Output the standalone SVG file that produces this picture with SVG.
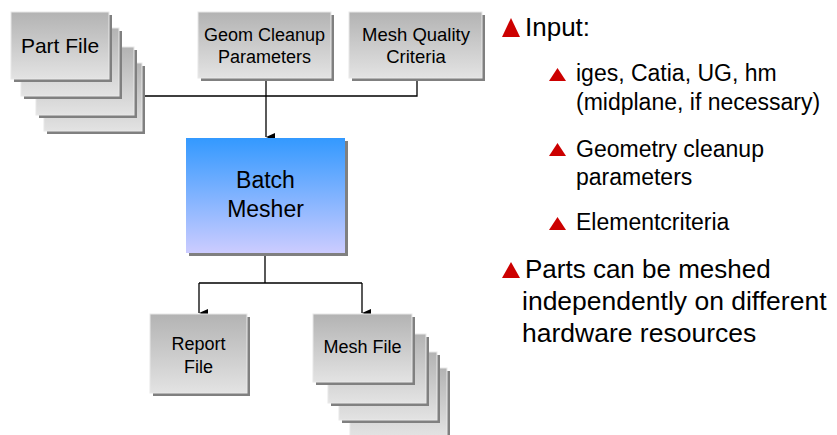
<svg xmlns="http://www.w3.org/2000/svg" width="837" height="435" viewBox="0 0 837 435">
<defs>
<linearGradient id="gray" x1="0" y1="0" x2="0" y2="1">
<stop offset="0" stop-color="#B3B3B3"/>
<stop offset="1" stop-color="#E3E3E3"/>
</linearGradient>
<linearGradient id="blue" x1="0" y1="0" x2="0" y2="1">
<stop offset="0" stop-color="#3399FF"/>
<stop offset="1" stop-color="#CCCCFF"/>
</linearGradient>
<marker id="arr" markerWidth="10" markerHeight="10" refX="5" refY="9" orient="auto-start-reverse" markerUnits="userSpaceOnUse" viewBox="0 0 10 10">
<path d="M1,0 L9,0 L5,9 Z" fill="#000"/>
</marker>
</defs>
<style>
.card{fill:url(#gray);stroke:#E8E8E8;stroke-width:1}
.sh{fill:#808080}
.lbl{font-family:"Liberation Sans",Arial,sans-serif;fill:#000;text-anchor:middle}
.conn{fill:none;stroke:#000;stroke-width:1.3}
.bul{fill:#CC0000}
.txt{font-family:"Liberation Sans",Arial,sans-serif;fill:#000}
</style>
<rect width="837" height="435" fill="#fff"/>

<g id="connectors">
<path class="conn" d="M143,96 H417 V81"/>
<path class="conn" d="M266,81 V137" marker-end="url(#arr)"/>
<path class="conn" d="M265,256 V283 M199,283 H362"/>
<path class="conn" d="M199,283 V313" marker-end="url(#arr)"/>
<path class="conn" d="M362,283 V313" marker-end="url(#arr)"/>
</g>

<g id="part-file">
<rect class="sh" x="47" y="66" width="98" height="68"/>
<rect class="card" x="44" y="63" width="98" height="68"/>
<rect class="sh" x="39" y="50" width="98" height="68"/>
<rect class="card" x="36" y="47" width="98" height="68"/>
<rect class="sh" x="24" y="31" width="98" height="68"/>
<rect class="card" x="21" y="28" width="98" height="68"/>
<rect class="sh" x="14" y="15" width="98" height="67"/>
<rect class="card" x="11" y="12" width="98" height="67"/>
<text class="lbl" x="60" y="53" font-size="21">Part File</text>
</g>

<g id="geom-cleanup">
<rect class="sh" x="201" y="15" width="133" height="66"/>
<rect class="card" x="198" y="12" width="133" height="66"/>
<text class="lbl" x="264.5" y="41" font-size="18">Geom Cleanup</text>
<text class="lbl" x="264.5" y="63" font-size="18">Parameters</text>
</g>

<g id="mesh-quality">
<rect class="sh" x="352" y="15" width="133" height="66"/>
<rect class="card" x="349" y="12" width="133" height="66"/>
<text class="lbl" x="416" y="41" font-size="18.5">Mesh Quality</text>
<text class="lbl" x="416" y="63" font-size="18.5">Criteria</text>
</g>

<g id="batch-mesher">
<rect class="sh" x="189" y="141" width="159" height="115"/>
<rect x="186" y="138" width="159" height="115" fill="url(#blue)"/>
<text class="lbl" x="265.5" y="188" font-size="23">Batch</text>
<text class="lbl" x="265.5" y="217" font-size="23">Mesher</text>
</g>

<g id="report-file">
<rect class="sh" x="153" y="317" width="97" height="79"/>
<rect class="card" x="150" y="314" width="97" height="79"/>
<text class="lbl" x="198.5" y="350" font-size="18">Report</text>
<text class="lbl" x="198.5" y="373" font-size="18">File</text>
</g>

<g id="mesh-file">
<rect class="sh" x="353" y="371" width="97" height="68"/>
<rect class="card" x="350" y="368" width="97" height="68"/>
<rect class="sh" x="342" y="355" width="98" height="68"/>
<rect class="card" x="339" y="352" width="98" height="68"/>
<rect class="sh" x="331" y="337" width="98" height="69"/>
<rect class="card" x="328" y="334" width="98" height="69"/>
<rect class="sh" x="316" y="317" width="99" height="68"/>
<rect class="card" x="313" y="314" width="99" height="68"/>
<text class="lbl" x="362.5" y="353" font-size="18">Mesh File</text>
</g>

<g id="notes">
<polygon class="bul" points="502,37 520,37 511,18"/>
<text class="txt" x="525" y="36" font-size="26">Input:</text>
<polygon class="bul" points="549,81 566,81 557.5,68"/>
<text class="txt" x="576" y="81" font-size="23">iges, Catia, UG, hm</text>
<text class="txt" x="576" y="110" font-size="23">(midplane, if necessary)</text>
<polygon class="bul" points="549,156 566,156 557.5,143"/>
<text class="txt" x="576" y="157" font-size="23">Geometry cleanup</text>
<text class="txt" x="576" y="185" font-size="23">parameters</text>
<polygon class="bul" points="549,230 566,230 557.5,217"/>
<text class="txt" x="576" y="230" font-size="23">Elementcriteria</text>
<polygon class="bul" points="502,278 520,278 511,262"/>
<text class="txt" x="525" y="278" font-size="26">Parts can be meshed</text>
<text class="txt" x="522" y="310" font-size="26.5">independently on different</text>
<text class="txt" x="522" y="342" font-size="26.5">hardware resources</text>
</g>
</svg>
